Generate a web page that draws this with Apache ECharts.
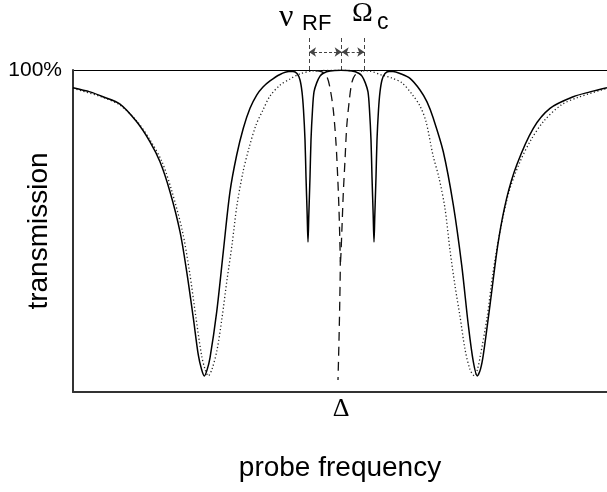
<!DOCTYPE html>
<html>
<head>
<meta charset="utf-8">
<script src="https://cdn.jsdelivr.net/npm/echarts@6/dist/echarts.min.js"></script>
<style>
  html, body { margin: 0; padding: 0; background: #fff; }
  #chart { width: 607px; height: 492px; }
</style>
</head>
<body>
<div id="chart"></div>
<script>
// detuning (px-like units, 0 = line centre), transmission in %
const solidCurve = [
  [-268, 94.5], [-251, 93.2], [-238, 91.7], [-221, 89.4], [-204.3, 83.9], [-191, 77.7],
  [-181, 71.5], [-171, 62.2], [-161, 49.8], [-154.3, 37.4], [-147.7, 23.0], [-142.7, 11.5],
  [-139.5, 7.1], [-136.7, 5.0], [-134, 6.8], [-131, 10.6], [-124.3, 24.9], [-117.7, 43.6],
  [-111, 62.2], [-104.3, 73.6], [-97.7, 81.9], [-91, 88.1], [-84.3, 92.2], [-78, 94.7],
  [-71, 96.6], [-61, 98.6], [-52, 99.5], [-48, 99.5], [-44, 98.9], [-41, 96.9],
  [-39, 93.2], [-37.5, 87.6], [-36, 78.3], [-35, 66.8], [-33.8, 54.8], [-33, 46.6],
  [-32.2, 54.8], [-31, 66.8], [-30, 78.3], [-28.5, 87.6], [-27, 93.2], [-24.3, 96.0],
  [-21, 98.1], [-17.7, 99.0], [-11, 99.7], [0, 99.9], [11, 99.7], [17.7, 99.0],
  [21, 98.1], [24.3, 96.0], [27, 93.2], [28.5, 87.6], [30, 78.3], [31, 66.8],
  [32.2, 54.8], [33, 46.6], [33.8, 54.8], [35, 66.8], [36, 78.3], [37.5, 87.6],
  [39, 93.2], [41, 96.9], [44, 98.9], [48, 99.5], [52, 99.5], [59, 98.9],
  [69, 97.4], [79, 93.8], [86, 90.1], [92.3, 85.0], [102.3, 74.6], [112.3, 58.1],
  [120.7, 39.4], [127.3, 20.8], [132.3, 9.4], [136.3, 5.0], [139.5, 7.1], [142.3, 11.5],
  [149, 27.0], [157.3, 46.7], [165.7, 60.2], [175.7, 70.5], [192.3, 81.9], [209, 88.1],
  [232.3, 91.7], [249, 93.2], [266, 94.5]
];

const dottedCurve = [
  [-268, 94.3], [-238, 91.5], [-221, 89.1], [-204.3, 84.2], [-191, 78.3], [-179, 71.5],
  [-169, 62.2], [-158.5, 49.8], [-151.5, 37.4], [-145, 23.0], [-139.5, 11.5], [-136, 7.1],
  [-132.7, 5.0], [-129, 7.1], [-124, 13.0], [-119, 23.0], [-114, 34.8], [-109, 45.7],
  [-104, 58.1], [-98, 68.3], [-92, 75.8], [-85, 82.9], [-78, 87.6], [-71, 91.9],
  [-61, 95.3], [-51, 97.2], [-41, 98.8], [-28, 99.7], [0, 99.9], [13, 99.8],
  [28, 99.7], [41, 98.4], [51, 97.5], [61, 96.0], [71, 92.5], [79, 88.8],
  [85, 84.0], [92, 73.5], [98, 66.5], [104, 57.0], [109, 44.0], [114, 33.0],
  [119, 23.5], [124, 13.3], [129, 7.0], [133.5, 5.0], [136.5, 7.1], [139.5, 11.5],
  [146, 23.0], [152, 37.0], [159, 49.8], [168, 62.2], [179, 71.5], [190, 78.3],
  [203, 84.2], [220, 89.1], [237, 91.5], [266, 94.3]
];

const dashedLeft = [
  [-26, 99.8], [-19, 99.4], [-14, 97.8], [-11, 94.4], [-7.7, 87.6], [-5, 77.3],
  [-3.3, 66.8], [-2, 56.5], [-1, 45.0], [-0.7, 40.4], [-1.2, 28.6], [-2, 16.1], [-3, 3.7]
];
const dashedRight = [
  [-0.5, 40.4], [0, 43.2], [1, 51.2], [2.3, 61.8], [4, 72.0], [5.7, 82.3],
  [8, 89.7], [10.7, 95.9], [14, 98.4], [21, 99.7]
];

// markers above the 100% line
const markerX = [-32, 0.7, 23.3];
const markerTop = 110.2;
const arrowY = 105.6;
const arrowSpans = [[-32, 0.7], [0.7, 23.3]];

const chart = echarts.init(document.getElementById('chart'));

const option = {
  animation: false,
  backgroundColor: '#fff',
  grid: { left: 73, right: 0, top: 70, bottom: 100, containLabel: false, outerBoundsMode: 'none' },
  xAxis: {
    type: 'value',
    min: -268,
    max: 266,
    name: 'probe frequency',
    nameLocation: 'middle',
    nameGap: 62,
    nameMoveOverlap: false,
    nameTextStyle: { fontFamily: 'Liberation Sans', fontSize: 28, color: '#000' },
    axisLine: { show: true, onZero: false, lineStyle: { color: '#333', width: 2 } },
    axisTick: { show: false },
    splitLine: { show: false },
    axisLabel: {
      customValues: [0],
      formatter: () => 'Δ',
      fontFamily: 'Liberation Serif',
      fontSize: 26,
      color: '#000',
      margin: 4
    }
  },
  yAxis: {
    type: 'value',
    min: 0,
    max: 100,
    interval: 100,
    name: 'transmission',
    nameLocation: 'middle',
    nameRotate: 90,
    nameGap: 20,
    nameMoveOverlap: false,
    nameTextStyle: { fontFamily: 'Liberation Sans', fontSize: 28, color: '#000' },
    axisLine: { show: true, onZero: false, lineStyle: { color: '#333', width: 2 } },
    axisTick: { show: false },
    splitLine: { show: true, lineStyle: { color: '#000', width: 1 } },
    axisLabel: {
      formatter: v => (v === 100 ? '100%' : ''),
      fontFamily: 'Liberation Sans',
      fontSize: 21,
      color: '#000',
      margin: 11
    }
  },
  graphic: [
    { type: 'text', style: { x: 279, y: 18, text: 'ν', font: '32px "Liberation Serif"', fill: '#000', verticalAlign: 'middle' } },
    { type: 'text', style: { x: 302, y: 24, text: 'RF', font: '22px "Liberation Sans"', fill: '#000', verticalAlign: 'middle' } },
    { type: 'text', style: { x: 352, y: 14, text: 'Ω', font: '28px "Liberation Serif"', fill: '#000', verticalAlign: 'middle' } },
    { type: 'text', style: { x: 377, y: 23, text: 'c', font: '23px "Liberation Sans"', fill: '#000', verticalAlign: 'middle' } }
  ],
  series: [
    {
      name: 'dotted',
      type: 'line',
      data: dottedCurve,
      smooth: 0.3,
      showSymbol: false,
      lineStyle: { color: '#222', width: 1.3, type: [1.2, 2.4] }
    },
    {
      name: 'dashedLeft',
      type: 'line',
      data: dashedLeft,
      smooth: 0.3,
      showSymbol: false,
      lineStyle: { color: '#111', width: 1.3, type: [9, 6] }
    },
    {
      name: 'dashedRight',
      type: 'line',
      data: dashedRight,
      smooth: 0.3,
      showSymbol: false,
      lineStyle: { color: '#111', width: 1.3, type: [9, 6] }
    },
    {
      name: 'solid',
      type: 'line',
      data: solidCurve,
      smooth: 0.3,
      showSymbol: false,
      lineStyle: { color: '#000', width: 1.5 }
    },
    {
      name: 'markers',
      type: 'lines',
      coordinateSystem: 'cartesian2d',
      clip: false,
      silent: true,
      symbol: 'none',
      lineStyle: { color: '#444', width: 1, type: [4, 3], opacity: 1 },
      data: markerX.map(x => ({ coords: [[x, 100], [x, markerTop]] }))
    },
    {
      name: 'arrows',
      type: 'lines',
      coordinateSystem: 'cartesian2d',
      clip: false,
      silent: true,
      symbol: ['arrow', 'arrow'],
      symbolSize: 7,
      lineStyle: { color: '#444', width: 1, type: [3, 2], opacity: 1 },
      data: arrowSpans.map(s => ({ coords: [[s[0], arrowY], [s[1], arrowY]] }))
    }
  ]
};

chart.setOption(option);

window.addEventListener('resize', function() {
  chart.resize();
});
</script>
</body>
</html>
